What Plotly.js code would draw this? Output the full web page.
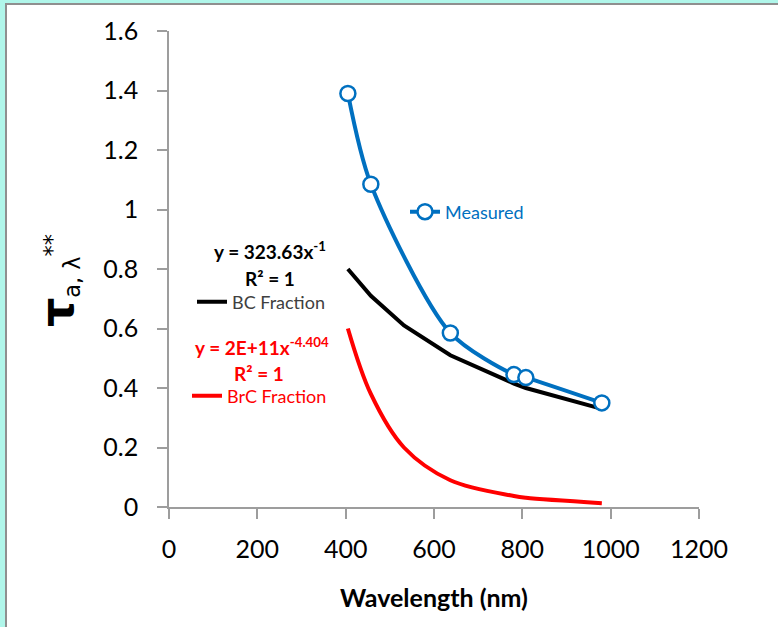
<!DOCTYPE html>
<html>
<head>
<meta charset="utf-8">
<script src="https://cdn.plot.ly/plotly-3.0.1.min.js"></script>
<style>
  html, body { margin: 0; padding: 0; width: 778px; height: 627px; overflow: hidden; background: #b0f6ea; }
  #frame { position: absolute; left: 5px; top: 3px; width: 773px; height: 624px; border-left: 2px solid #8f8f8f; border-top: 2px solid #8f8f8f; background: #ffffff; }
  #chart { width: 771px; height: 622px; }
</style>
</head>
<body>
<div id="frame"><div id="chart"></div></div>
<script>
// Measured optical depth
const measuredWavelength = [405, 457, 637, 781, 808, 980];
const measuredValue = [1.39, 1.085, 0.585, 0.445, 0.435, 0.35];

// BC fraction (fit y = 323.63 x^-1)
const bcWavelength = [405, 457, 532, 637, 781, 808, 980];
const bcValue = [0.80, 0.71, 0.61, 0.51, 0.415, 0.40, 0.33];

// BrC fraction (fit y = 2E+11 x^-4.404)
const brcWavelength = [405, 457, 532, 637, 781, 808, 980];
const brcValue = [0.60, 0.38, 0.20, 0.09, 0.037, 0.031, 0.013];

const xTicks = [0, 200, 400, 600, 800, 1000, 1200];
const yTicks = [0, 0.2, 0.4, 0.6, 0.8, 1, 1.2, 1.4, 1.6];

const FONT = "Lato, 'Liberation Sans', sans-serif";

// pixel -> paper helpers (plot area spans x 169..699, y 31..507 in window)
const px = v => (v - 169) / 530;
const py = v => (507 - v) / 476;

const traces = [
  {
    x: bcWavelength, y: bcValue, name: 'BC Fraction', mode: 'lines',
    line: { color: '#000000', width: 4 }, legend: 'legend2'
  },
  {
    x: brcWavelength, y: brcValue, name: 'BrC Fraction', mode: 'lines',
    line: { color: '#ff0000', width: 4, shape: 'spline', smoothing: 1 }, legend: 'legend3'
  },
  {
    x: measuredWavelength, y: measuredValue, name: 'Measured', mode: 'lines+markers',
    line: { color: '#0070c0', width: 4, shape: 'spline', smoothing: 0.8 },
    marker: { symbol: 'circle', size: 15, color: '#ffffff', line: { color: '#0070c0', width: 2.5 } },
    legend: 'legend'
  }
];

const legendBase = { bgcolor: 'rgba(0,0,0,0)', borderwidth: 0, xanchor: 'left', yanchor: 'middle', itemwidth: 30, tracegroupgap: 0 };

const layout = {
  width: 771, height: 622,
  margin: { l: 162, r: 79, t: 26, b: 120 },
  paper_bgcolor: '#ffffff', plot_bgcolor: '#ffffff',
  font: { family: FONT, color: '#000000' },
  showlegend: true,
  legend: Object.assign({}, legendBase, { x: px(405), y: py(212), font: { family: FONT, size: 18, color: '#0070c0' } }),
  legend2: Object.assign({}, legendBase, { x: px(192), y: py(302), font: { family: FONT, size: 18, color: '#404040' } }),
  legend3: Object.assign({}, legendBase, { x: px(187), y: py(396), font: { family: FONT, size: 18, color: '#ff0000' } }),
  xaxis: {
    range: [0, 1200], tickvals: xTicks, ticktext: xTicks.map(String),
    showgrid: false, zeroline: false, showline: true, linecolor: '#9d9d9d', linewidth: 1.5,
    ticks: 'outside', ticklen: 10, tickcolor: '#9d9d9d', tickwidth: 1.5,
    tickfont: { family: FONT, size: 25, color: '#000000' }, ticklabelstandoff: 9,
    title: { text: '<b>Wavelength (nm)</b>', font: { family: FONT, size: 25, color: '#000000' }, standoff: 28 }
  },
  yaxis: {
    range: [0, 1.6], tickvals: yTicks, ticktext: yTicks.map(v => String(v)),
    showgrid: false, zeroline: false, showline: true, linecolor: '#9d9d9d', linewidth: 1.5,
    ticks: 'outside', ticklen: 10, tickcolor: '#9d9d9d', tickwidth: 1.5,
    tickfont: { family: FONT, size: 25, color: '#000000' }, ticklabelstandoff: 14
  },
  annotations: [
    { xref: 'paper', yref: 'paper', x: px(57), y: py(281), xanchor: 'center', yanchor: 'middle', textangle: -90, showarrow: false,
      text: '<b><span style="font-size:46px">τ</span></b><span style="font-size:32px"><sub>a, λ</sub><sup>**</sup></span>',
      font: { family: "'DejaVu Sans', sans-serif", size: 32, color: '#000000' } },
    { xref: 'paper', yref: 'paper', x: px(270), y: py(250), showarrow: false, xanchor: 'center', yanchor: 'middle',
      text: '<b>y = 323.63x<sup>-1</sup></b>', font: { family: FONT, size: 19, color: '#000000' } },
    { xref: 'paper', yref: 'paper', x: px(270), y: py(278), showarrow: false, xanchor: 'center', yanchor: 'middle',
      text: '<b>R² = 1</b>', font: { family: FONT, size: 19, color: '#000000' } },
    { xref: 'paper', yref: 'paper', x: px(262), y: py(346), showarrow: false, xanchor: 'center', yanchor: 'middle',
      text: '<b>y = 2E+11x<sup>-4.404</sup></b>', font: { family: FONT, size: 19, color: '#ff0000' } },
    { xref: 'paper', yref: 'paper', x: px(259), y: py(373), showarrow: false, xanchor: 'center', yanchor: 'middle',
      text: '<b>R² = 1</b>', font: { family: FONT, size: 19, color: '#ff0000' } }
  ]
};

Plotly.newPlot('chart', traces, layout, { displayModeBar: false, responsive: false });
</script>
</body>
</html>
